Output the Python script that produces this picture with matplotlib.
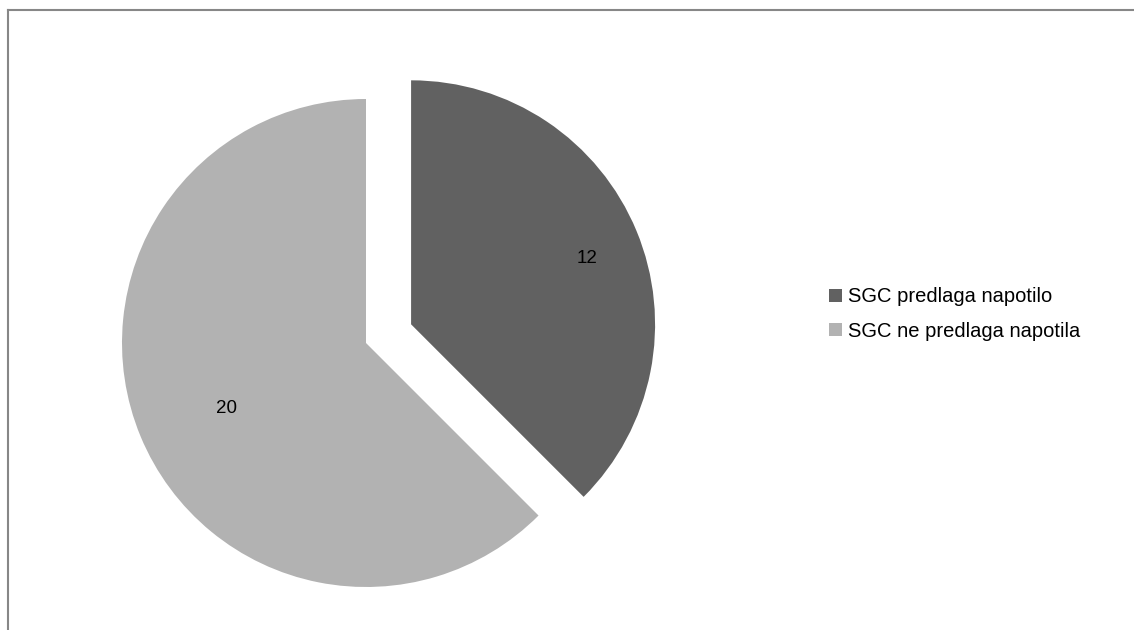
import numpy as np
import matplotlib.pyplot as plt
from matplotlib.patches import Patch

# Data
labels = ['SGC predlaga napotilo', 'SGC ne predlaga napotila']
values = [12, 20]
colors = ['#616161', '#b2b2b2']
explode = [0.2, 0.0]
label_dist = [0.78, 0.62]

plt.rcParams['font.family'] = ['Liberation Sans', 'DejaVu Sans']

W, H = 1134, 630
fig = plt.figure(figsize=(W / 100, H / 100), dpi=100)
ax = fig.add_axes([0, 0, 1, 1])

wedges, _ = ax.pie(values, colors=colors, explode=explode, startangle=90,
                   counterclock=False, radius=1.0,
                   wedgeprops=dict(linewidth=0))

# value labels placed along each wedge's mid-angle
for w, v, d in zip(wedges, values, label_dist):
    ang = np.deg2rad((w.theta1 + w.theta2) / 2)
    cx, cy = w.center
    ax.text(cx + d * np.cos(ang), cy + d * np.sin(ang) - 0.03, str(v),
            ha='center', va='center', fontsize=13.5, color='black')

# map data units to pixels: radius 1 -> 244 px, pie centre at (366, 343)
r_px, cx_px, cy_px = 244, 366, 343
ax.set_xlim(-cx_px / r_px, (W - cx_px) / r_px)
ax.set_ylim(-(H - cy_px) / r_px, cy_px / r_px)
ax.set_aspect('auto')
ax.axis('off')

handles = [Patch(facecolor=c, edgecolor='none') for c in colors]
fig.legend(handles, labels, loc='center left',
           bbox_to_anchor=(811 / W, 1 - 314 / H), frameon=False,
           fontsize=14.5, handlelength=0.65, handleheight=0.65,
           handletextpad=0.3, labelspacing=0.75)

# chart border (top and left visible)
fig.add_artist(plt.Line2D([8 / W, 1], [1 - 10 / H, 1 - 10 / H],
                          color='#878787', lw=1.5, transform=fig.transFigure))
fig.add_artist(plt.Line2D([8 / W, 8 / W], [0, 1 - 10 / H],
                          color='#878787', lw=1.5, transform=fig.transFigure))

fig.savefig('out.png', dpi=100)
